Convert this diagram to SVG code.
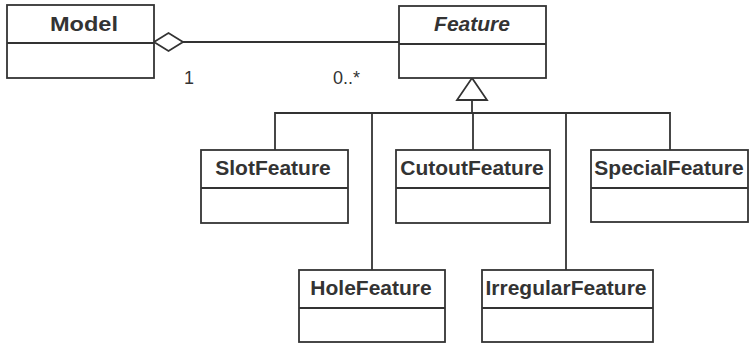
<svg xmlns="http://www.w3.org/2000/svg" width="751" height="344" viewBox="0 0 751 344">
<style>
.box{fill:#fff;stroke:#333;stroke-width:1.8}
.ln{fill:none;stroke:#333;stroke-width:1.8}
.nm{font-family:"Liberation Sans",Arial,sans-serif;font-weight:bold;font-size:21px;fill:#333;text-anchor:middle}
.lbl{font-family:"Liberation Sans",Arial,sans-serif;font-size:18px;fill:#333}
</style>
<rect width="751" height="344" fill="#fff"/>
<g id="connectors">
<line class="ln" x1="183" y1="42" x2="399" y2="42"/>
<polygon class="ln" points="154,42 168.5,33 183,42 168.5,51" style="fill:#fff"/>
<polygon class="ln" points="472,78 487,100 457,100" style="fill:#fff"/>
<line class="ln" x1="472" y1="100" x2="472" y2="113"/>
<polyline class="ln" points="275,150 275,113 670,113 670,150"/>
<line class="ln" x1="372" y1="113" x2="372" y2="270"/>
<line class="ln" x1="473" y1="113" x2="473" y2="150"/>
<line class="ln" x1="566" y1="113" x2="566" y2="270"/>
<text class="lbl" x="184" y="84">1</text>
<text class="lbl" x="333" y="84">0..*</text>
</g>
<g id="Model">
<rect class="box" x="7" y="5" width="147" height="73"/>
<line class="ln" x1="7" y1="43" x2="154" y2="43"/>
<text class="nm" x="84" y="31" textLength="68" lengthAdjust="spacingAndGlyphs">Model</text>
</g>
<g id="Feature">
<rect class="box" x="399" y="6" width="147" height="72"/>
<line class="ln" x1="399" y1="44" x2="546" y2="44"/>
<text class="nm" x="472" y="31" font-style="italic">Feature</text>
</g>
<g id="SlotFeature">
<rect class="box" x="201" y="150" width="147" height="73"/>
<line class="ln" x1="201" y1="188" x2="348" y2="188"/>
<text class="nm" x="273" y="175">SlotFeature</text>
</g>
<g id="CutoutFeature">
<rect class="box" x="396" y="150" width="154" height="73"/>
<line class="ln" x1="396" y1="188" x2="550" y2="188"/>
<text class="nm" x="472" y="175">CutoutFeature</text>
</g>
<g id="SpecialFeature">
<rect class="box" x="591" y="150" width="157" height="72"/>
<line class="ln" x1="591" y1="188" x2="748" y2="188"/>
<text class="nm" x="669" y="175">SpecialFeature</text>
</g>
<g id="HoleFeature">
<rect class="box" x="299" y="270" width="146" height="72"/>
<line class="ln" x1="299" y1="308" x2="445" y2="308"/>
<text class="nm" x="371" y="295">HoleFeature</text>
</g>
<g id="IrregularFeature">
<rect class="box" x="482" y="270" width="171" height="72"/>
<line class="ln" x1="482" y1="308" x2="653" y2="308"/>
<text class="nm" x="566" y="295">IrregularFeature</text>
</g>
</svg>
